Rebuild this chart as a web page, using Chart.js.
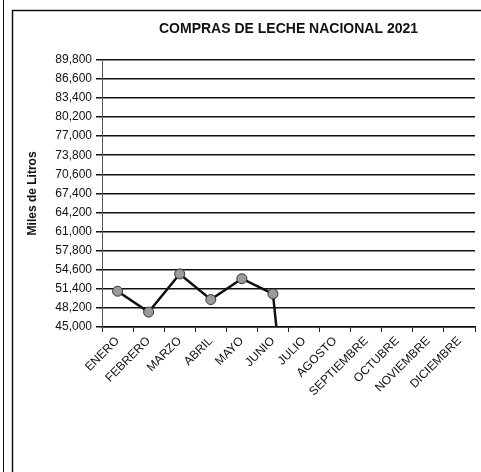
<!DOCTYPE html>
<html>
<head>
<meta charset="utf-8">
<title>Compras de leche nacional 2021</title>
<script src="https://cdn.jsdelivr.net/npm/chart.js@4/dist/chart.umd.min.js"></script>
<style>
  html, body { margin: 0; padding: 0; background: #fff; }
  #wrap { width: 481px; height: 472px; position: relative; }
</style>
</head>
<body>
<div id="wrap"><canvas id="lecheChart"></canvas></div>
<script>
// Chart data
const months = ["ENERO", "FEBRERO", "MARZO", "ABRIL", "MAYO", "JUNIO",
  "JULIO", "AGOSTO", "SEPTIEMBRE", "OCTUBRE", "NOVIEMBRE", "DICIEMBRE"];
// miles de litros (JULIO is 0, the line falls off the axis)
const compras = [51000, 47500, 53900, 49600, 53100, 50550, 0, null, null, null, null, null];
const yMin = 45000;
const yMax = 89800;
const yStep = 3200;

const FONT = "'Liberation Sans', Arial, sans-serif";

// Frame around the chart, like the printed sheet
const framePlugin = {
  id: "frame",
  beforeDraw(chart) {
    const ctx = chart.ctx;
    ctx.save();
    ctx.fillStyle = "#fff";
    ctx.fillRect(0, 0, chart.width, chart.height);
    ctx.strokeStyle = "#111";
    ctx.lineWidth = 1.5;
    ctx.strokeRect(12.5, 10.5, chart.width + 20, chart.height + 20);
    ctx.lineWidth = 1;
    ctx.beginPath();
    ctx.moveTo(3.5, 0);
    ctx.lineTo(3.5, chart.height);
    ctx.stroke();
    ctx.restore();
  },
};

document.addEventListener("DOMContentLoaded", () => {
  const ctx = document.getElementById("lecheChart").getContext("2d");

  new Chart(ctx, {
    type: "line",
    data: {
      labels: months,
      datasets: [
        {
          label: "Compras",
          data: compras,
          borderColor: "#111",
          borderWidth: 2.5,
          pointRadius: 5,
          pointBackgroundColor: "#9a9a9a",
          pointBorderColor: "#333",
          pointBorderWidth: 1,
          tension: 0,
          spanGaps: false,
        },
      ],
    },
    options: {
      responsive: true,
      maintainAspectRatio: false,
      animation: false,
      layout: { padding: { top: 6, right: 4, bottom: 0, left: 0 } },
      plugins: {
        legend: { display: false },
        tooltip: { enabled: false },
        title: {
          display: true,
          text: "COMPRAS DE LECHE NACIONAL 2021",
          color: "#111",
          fullSize: false,
          font: { family: FONT, size: 14, weight: "bold" },
          padding: { top: 15, bottom: 22 },
        },
      },
      scales: {
        x: {
          offset: true,
          grid: {
            display: true,
            offset: true,
            drawOnChartArea: false,
            drawTicks: true,
            tickLength: 5,
            color: "#222",
          },
          border: { display: true, color: "#111", width: 1.5 },
          ticks: {
            autoSkip: false,
            minRotation: 45,
            maxRotation: 45,
            color: "#111",
            padding: 2,
            font: { family: FONT, size: 12 },
          },
          afterFit(scale) {
            scale.height = 145;
          },
        },
        y: {
          min: yMin,
          max: yMax,
          ticks: {
            stepSize: yStep,
            color: "#111",
            padding: 4,
            font: { family: FONT, size: 12 },
            callback: (v) => v.toLocaleString("en-US"),
          },
          grid: {
            color: "#111",
            lineWidth: 1.5,
            tickLength: 6,
          },
          border: { display: true, color: "#555", width: 1 },
          title: {
            display: true,
            text: "Miles de Litros",
            color: "#111",
            font: { family: FONT, size: 12, weight: "bold" },
            padding: { top: 25, bottom: 0 },
          },
          afterFit(scale) {
            scale.width = 102;
          },
        },
      },
    },
    plugins: [framePlugin],
  });
});
</script>
</body>
</html>
